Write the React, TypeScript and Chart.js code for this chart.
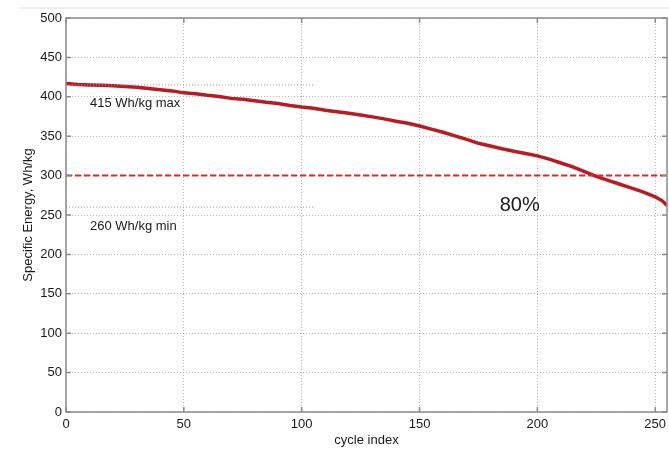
import React, { useEffect, useRef } from "react";
import { Chart, registerables } from "chart.js";

Chart.register(...registerables);

const cycles = [0, 5, 10, 15, 20, 25, 30, 35, 40, 45, 50, 55, 60, 65, 70, 75, 80, 85, 90, 95, 100, 105, 110, 115, 120, 125, 130, 135, 140, 145, 150, 155, 160, 165, 170, 175, 180, 185, 190, 195, 200, 205, 210, 215, 220, 225, 230, 235, 240, 245, 250, 253, 255];
const energy = [417, 415.5, 415, 414.5, 414, 413, 412, 410.5, 409, 407.5, 405, 404, 402, 400.5, 398, 397, 395, 393, 391.5, 389, 387, 385.5, 383, 381, 379, 377, 374.5, 372, 369, 366.5, 363, 359, 355, 350.5, 346, 341, 337.5, 334, 331, 328, 325, 321, 316, 311, 305, 299, 294, 289, 284, 279, 273, 268, 262];

const xTicks = [0, 50, 100, 150, 200, 250];
const maxLine = 415;
const minLine = 260;
const refLevel = 300;
const refLineEnd = 105;
const xMax = 255;
const yMax = 500;

const annotations = [
  { text: "415 Wh/kg max", x: 10.2, y: 391, size: 13 },
  { text: "260 Wh/kg min", x: 10.2, y: 235, size: 13 },
  { text: "80%", x: 184, y: 262, size: 20 },
];

const FONT = "'Liberation Sans', Arial, sans-serif";

const matlabPlugin = {
  id: "matlab",
  beforeDraw(chart: any) {
    const ctx = chart.ctx;
    ctx.save();
    ctx.fillStyle = "#ffffff";
    ctx.fillRect(0, 0, chart.width, chart.height);
    ctx.strokeStyle = "#ececec";
    ctx.lineWidth = 2;
    ctx.beginPath();
    ctx.moveTo(20, 8);
    ctx.lineTo(chart.width, 8);
    ctx.stroke();
    ctx.restore();
  },
  afterDatasetsDraw(chart: any) {
    const ctx = chart.ctx;
    const a = chart.chartArea;
    const xs = chart.scales.x;
    const ys = chart.scales.y;
    ctx.save();
    ctx.strokeStyle = "#8a8a8a";
    ctx.lineWidth = 1.5;
    ctx.strokeRect(a.left, a.top, a.right - a.left, a.bottom - a.top);
    ctx.beginPath();
    const tl = 5;
    xs.ticks.forEach((t: any) => {
      const px = xs.getPixelForValue(t.value);
      ctx.moveTo(px, a.bottom);
      ctx.lineTo(px, a.bottom - tl);
      ctx.moveTo(px, a.top);
      ctx.lineTo(px, a.top + tl);
    });
    ys.ticks.forEach((t: any) => {
      const py = ys.getPixelForValue(t.value);
      ctx.moveTo(a.left, py);
      ctx.lineTo(a.left + tl, py);
      ctx.moveTo(a.right, py);
      ctx.lineTo(a.right - tl, py);
    });
    ctx.stroke();
    ctx.fillStyle = "#1a1a1a";
    ctx.textBaseline = "middle";
    ctx.textAlign = "left";
    annotations.forEach((an) => {
      ctx.font = `${an.size}px ${FONT}`;
      ctx.fillText(an.text, xs.getPixelForValue(an.x), ys.getPixelForValue(an.y));
    });
    ctx.restore();
  },
};

export default function App() {
  const ref = useRef<HTMLCanvasElement>(null);
  useEffect(() => {
    if (!ref.current) return;
    const curve = cycles.map((c, i) => ({ x: c, y: energy[i] }));
    const chart = new Chart(ref.current, {
      type: "scatter",
      data: {
        datasets: [
          {
            data: [{ x: 0, y: maxLine }, { x: refLineEnd, y: maxLine }],
            showLine: true,
            borderColor: "#999999",
            borderWidth: 1,
            borderDash: [1, 2],
            pointRadius: 0,
          },
          {
            data: [{ x: 0, y: minLine }, { x: refLineEnd, y: minLine }],
            showLine: true,
            borderColor: "#999999",
            borderWidth: 1,
            borderDash: [1, 2],
            pointRadius: 0,
          },
          {
            data: [{ x: 0, y: refLevel }, { x: xMax, y: refLevel }],
            showLine: true,
            borderColor: "#e0282c",
            borderWidth: 2,
            borderDash: [6, 3],
            pointRadius: 0,
          },
          {
            data: curve,
            showLine: true,
            borderColor: "#b81c22",
            borderWidth: 3.5,
            pointRadius: 0,
            tension: 0,
          },
        ],
      },
      options: {
        animation: false,
        responsive: false,
        maintainAspectRatio: false,
        layout: { padding: { left: 0, top: 18, right: 2, bottom: 0 } },
        plugins: { legend: { display: false }, tooltip: { enabled: false } },
        scales: {
          x: {
            type: "linear",
            min: 0,
            max: xMax,
            border: { display: false, dash: [1, 2] },
            afterBuildTicks: (s: any) => {
              s.ticks = xTicks.map((v) => ({ value: v }));
            },
            afterFit: (s: any) => {
              s.height = 37;
              s.paddingRight = 0;
              s.paddingLeft = 0;
            },
            grid: {
              color: "#b8b8b8",
              lineWidth: 1,
              drawTicks: false,
            },
            ticks: {
              padding: 5,
              color: "#1a1a1a",
              font: { family: FONT, size: 13 },
              maxRotation: 0,
              autoSkip: false,
            },
            title: {
              display: true,
              text: "cycle index",
              color: "#1a1a1a",
              font: { family: FONT, size: 13 },
              padding: { top: 0, bottom: 1 },
            },
          },
          y: {
            min: 0,
            max: yMax,
            border: { display: false, dash: [1, 2] },
            afterFit: (s: any) => {
              s.width = 66;
              s.paddingTop = 0;
              s.paddingBottom = 0;
            },
            grid: {
              color: "#b8b8b8",
              lineWidth: 1,
              drawTicks: false,
            },
            ticks: {
              stepSize: 50,
              padding: 4,
              color: "#1a1a1a",
              font: { family: FONT, size: 13 },
            },
            title: {
              display: true,
              text: "Specific Energy, Wh/kg",
              color: "#1a1a1a",
              font: { family: FONT, size: 13 },
              padding: { top: 21, bottom: 0 },
            },
          },
        },
      },
      plugins: [matlabPlugin],
    });
    return () => chart.destroy();
  }, []);
  return (
    <div style={{ position: "absolute", left: 0, top: 0, width: 669, height: 449 }}>
      <canvas ref={ref} width={669} height={449} style={{ width: 669, height: 449 }} />
    </div>
  );
}
